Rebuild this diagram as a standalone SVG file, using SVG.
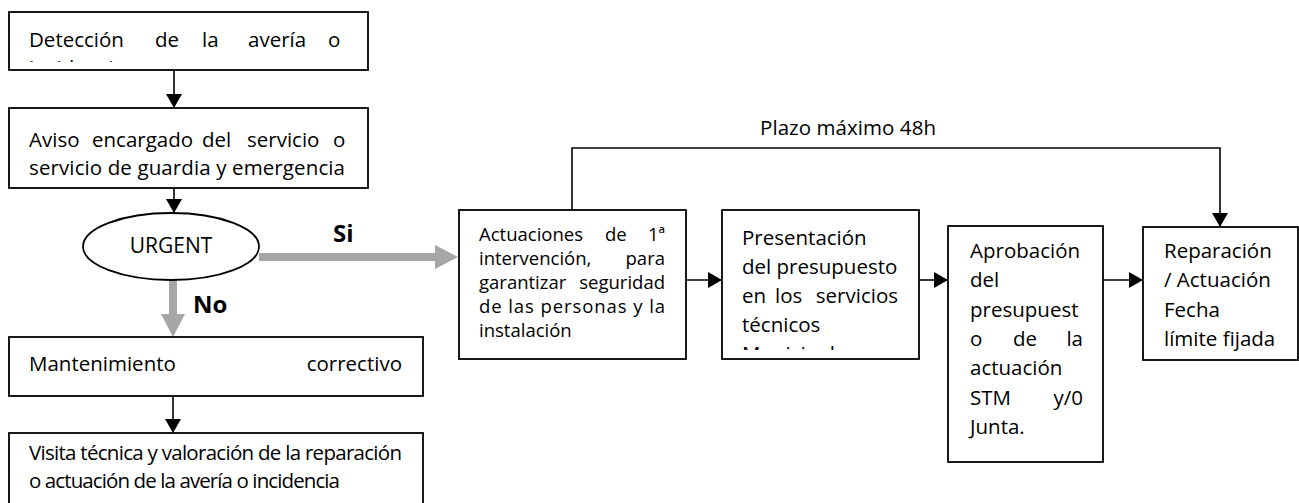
<svg xmlns="http://www.w3.org/2000/svg" width="1299" height="503" viewBox="0 0 1299 503">
<style>
.box{fill:#fff;stroke:#000;stroke-width:1.8}
.t{font-family:"Open Sans","Noto Sans","DejaVu Sans",sans-serif;font-size:20.5px;fill:#000}
.s{font-size:18.5px}
.b{font-weight:bold;font-size:24px}
.ln{fill:none;stroke:#000;stroke-width:1.6}
.gl{fill:none;stroke:#a6a6a6;stroke-width:8}
</style>
<defs>
<marker id="ah" markerUnits="userSpaceOnUse" viewBox="0 0 14 16" markerWidth="14" markerHeight="16" refX="14" refY="8" orient="auto"><path d="M0,0 L14,8 L0,16 z" fill="#000"/></marker>
<marker id="gh" markerUnits="userSpaceOnUse" viewBox="0 0 23 24" markerWidth="23" markerHeight="24" refX="0" refY="12" orient="auto"><path d="M0,0 L23,12 L0,24 z" fill="#a6a6a6"/></marker>
<clipPath id="c1"><rect x="9" y="12" width="359" height="50"/></clipPath>
<clipPath id="c2"><rect x="722" y="210" width="197" height="140"/></clipPath>
</defs>

<g id="connectors">
<line class="ln" x1="174" y1="70" x2="174" y2="108" marker-end="url(#ah)"/>
<line class="ln" x1="174" y1="188" x2="174" y2="213" marker-end="url(#ah)"/>
<line class="gl" x1="259" y1="257" x2="435" y2="257" marker-end="url(#gh)"/>
<line class="gl" x1="173" y1="280" x2="173" y2="314" marker-end="url(#gh)"/>
<line class="ln" x1="173" y1="396" x2="173" y2="433" marker-end="url(#ah)"/>
<polyline class="ln" points="572,216 572,148 1220,148 1220,227" marker-end="url(#ah)"/>
<line class="ln" x1="686" y1="280" x2="722" y2="280" marker-end="url(#ah)"/>
<line class="ln" x1="919" y1="280" x2="948" y2="280" marker-end="url(#ah)"/>
<line class="ln" x1="1093" y1="280" x2="1143" y2="280" marker-end="url(#ah)"/>
<text class="t b" x="333" y="242">Si</text>
<text class="t b" x="193" y="313">No</text>
<text class="t" x="760" y="135" textLength="176">Plazo máximo 48h</text>
</g>

<g id="n1">
<rect class="box" x="9" y="12" width="359" height="58"/>
<text class="t" y="47"><tspan x="29">Detección</tspan><tspan x="155">de</tspan><tspan x="202">la</tspan><tspan x="248">avería</tspan><tspan x="328">o</tspan></text>
<text class="t" x="29" y="75" clip-path="url(#c1)">incidencia</text>
</g>

<g id="n2">
<rect class="box" x="9" y="108" width="359" height="80"/>
<text class="t" y="147"><tspan x="29">Aviso</tspan><tspan x="92">encargado</tspan><tspan x="202">del</tspan><tspan x="247">servicio</tspan><tspan x="333">o</tspan></text>
<text class="t" x="29" y="175" textLength="316">servicio de guardia y emergencia</text>
</g>

<g id="n3">
<ellipse class="box" cx="171" cy="246.5" rx="88" ry="33.5"/>
<text class="t" x="171" y="253" text-anchor="middle" style="font-size:21px">URGENT</text>
</g>

<g id="n4">
<rect class="box" x="9" y="337" width="414" height="59"/>
<text class="t" x="29" y="371">Mantenimiento</text>
<text class="t" x="402" y="371" text-anchor="end">correctivo</text>
</g>

<g id="n5">
<rect class="box" x="9" y="433" width="414" height="80"/>
<text class="t" x="29" y="460" textLength="373">Visita técnica y valoración de la reparación</text>
<text class="t" x="29" y="488" textLength="311">o actuación de la avería o incidencia</text>
</g>

<g id="n6">
<rect class="box" x="459" y="210" width="227" height="149"/>
<text class="t s" y="241"><tspan x="479">Actuaciones</tspan><tspan x="605">de</tspan><tspan x="665" text-anchor="end">1ª</tspan></text>
<text class="t s" y="265"><tspan x="479">intervención,</tspan><tspan x="665" text-anchor="end">para</tspan></text>
<text class="t s" y="289"><tspan x="479">garantizar</tspan><tspan x="665" text-anchor="end">seguridad</tspan></text>
<text class="t s" x="479" y="313" textLength="186">de las personas y la</text>
<text class="t s" x="479" y="337">instalación</text>
</g>

<g id="n7">
<rect class="box" x="722" y="210" width="197" height="149"/>
<text class="t" x="742" y="245">Presentación</text>
<text class="t" x="742" y="274">del presupuesto</text>
<text class="t" y="303"><tspan x="742">en</tspan><tspan x="775">los</tspan><tspan x="898" text-anchor="end">servicios</tspan></text>
<text class="t" x="742" y="332">técnicos</text>
<text class="t" x="742" y="361" clip-path="url(#c2)">Municipales</text>
</g>

<g id="n8">
<rect class="box" x="948" y="226" width="155" height="236"/>
<text class="t" x="970" y="258">Aprobación</text>
<text class="t" x="970" y="287">del</text>
<text class="t" x="970" y="317">presupuest</text>
<text class="t" y="346"><tspan x="970">o</tspan><tspan x="1013">de</tspan><tspan x="1083" text-anchor="end">la</tspan></text>
<text class="t" x="970" y="375">actuación</text>
<text class="t" y="405"><tspan x="970">STM</tspan><tspan x="1083" text-anchor="end">y/0</tspan></text>
<text class="t" x="970" y="434">Junta.</text>
</g>

<g id="n9">
<rect class="box" x="1143" y="227" width="155" height="133"/>
<text class="t" x="1164" y="258">Reparación</text>
<text class="t" x="1164" y="287">/ Actuación</text>
<text class="t" x="1164" y="317">Fecha</text>
<text class="t" x="1164" y="346">límite fijada</text>
</g>
</svg>
